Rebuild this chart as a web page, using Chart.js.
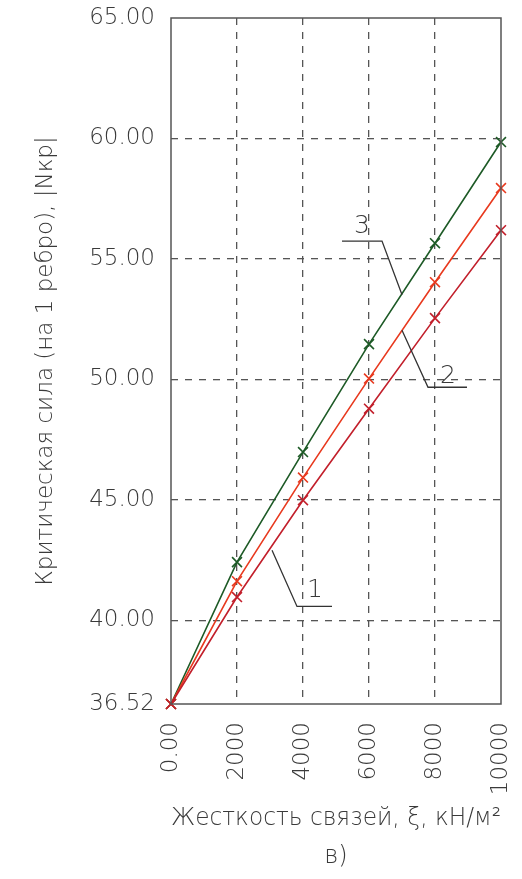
<!DOCTYPE html>
<html>
<head>
<meta charset="utf-8">
<script src="https://cdn.jsdelivr.net/npm/chart.js@4/dist/chart.umd.min.js"></script>
<style>
  html, body { margin: 0; padding: 0; background: #fff; }
</style>
</head>
<body>
<canvas id="chart" width="522" height="879"></canvas>
<script>
// stiffness of links, kN/m2
const stiffness = [0, 2000, 4000, 6000, 8000, 10000];
// critical force per rib, curves 1..3
const curve1 = [36.52, 40.96, 44.98, 48.78, 52.54, 56.19];
const curve2 = [36.52, 41.62, 45.92, 50.03, 54.03, 57.94];
const curve3 = [36.52, 42.41, 46.98, 51.46, 55.65, 59.85];
const yTicks = [36.52, 40, 45, 50, 55, 60, 65];
const xTicks = [0, 2000, 4000, 6000, 8000, 10000];

// callout leaders, in data units: label position + polyline
const leaderLabels = ['1', '2', '3'];
const leaderText = [[4364, 41.24], [8394, 50.13], [5788, 56.36]];
const leaderPaths = [
  [[3061, 42.90], [3818, 40.57], [4879, 40.57]],
  [[7000, 52.04], [7788, 49.67], [8970, 49.67]],
  [[7000, 53.51], [6394, 55.74], [5182, 55.74]]
];

const FONT = "'DejaVu Sans', sans-serif";
const INK = '#3a3a3a';

const frameAndLeaders = {
  id: 'frameAndLeaders',
  afterDraw(chart) {
    const { ctx, chartArea: a, scales: { x, y } } = chart;
    ctx.save();
    ctx.strokeStyle = '#555';
    ctx.lineWidth = 1.5;
    ctx.strokeRect(a.left, a.top, a.right - a.left, a.bottom - a.top);

    ctx.strokeStyle = '#333';
    ctx.lineWidth = 1.3;
    ctx.fillStyle = INK;
    ctx.font = '300 25px ' + FONT;
    ctx.textAlign = 'center';
    ctx.textBaseline = 'middle';
    leaderPaths.forEach((path, i) => {
      ctx.beginPath();
      path.forEach((p, j) => {
        const px = x.getPixelForValue(p[0]);
        const py = y.getPixelForValue(p[1]);
        if (j === 0) ctx.moveTo(px, py); else ctx.lineTo(px, py);
      });
      ctx.stroke();
      ctx.fillText(leaderLabels[i], x.getPixelForValue(leaderText[i][0]), y.getPixelForValue(leaderText[i][1]));
    });
    ctx.restore();
  }
};

function series(label, data, color) {
  return {
    label,
    data: stiffness.map((s, i) => ({ x: s, y: data[i] })),
    borderColor: color,
    backgroundColor: color,
    borderWidth: 1.6,
    pointStyle: 'crossRot',
    pointRadius: 7,
    pointBorderWidth: 1.6,
    tension: 0,
    clip: false
  };
}

const inner = (ctx) => ctx.index > 0 && ctx.index < ctx.chart.scales[ctx.scale.id].ticks.length - 1;

new Chart(document.getElementById('chart'), {
  type: 'line',
  data: {
    // first dataset is drawn on top (dark red cross visible at origin)
    datasets: [
      series('1', curve1, '#c21f2b'),
      series('2', curve2, '#e8391e'),
      series('3', curve3, '#1d5a26')
    ]
  },
  options: {
    responsive: false,
    animation: false,
    layout: { padding: { top: 18, right: 21, left: 0, bottom: 0 } },
    plugins: { legend: { display: false }, tooltip: { enabled: false } },
    scales: {
      x: {
        type: 'linear',
        min: 0,
        max: 10000,
        afterBuildTicks: (s) => { s.ticks = xTicks.map(v => ({ value: v })); },
        afterFit: (s) => { s.height = 175; s.paddingLeft = 0; s.paddingRight = 0; },
        ticks: {
          maxRotation: 90,
          minRotation: 90,
          padding: 18,
          color: INK,
          font: { family: FONT, size: 23, weight: '300' },
          callback: (v) => v === 0 ? '0.00' : String(v)
        },
        grid: {
          color: (c) => inner(c) ? '#555' : 'rgba(0,0,0,0)',
          lineWidth: 1.3,
          drawTicks: false
        },
        border: { display: false, dash: [7, 7] },
        title: {
          display: true,
          text: ['Жесткость связей, ξ, кН/м²', 'в)'],
          color: INK,
          font: { family: FONT, size: 24, weight: '300', lineHeight: 1.55 },
          padding: { top: 17 }
        }
      },
      y: {
        type: 'linear',
        min: 36.52,
        max: 65,
        afterBuildTicks: (s) => { s.ticks = yTicks.map(v => ({ value: v })); },
        afterFit: (s) => { s.width = 171; s.paddingTop = 0; s.paddingBottom = 0; },
        ticks: {
          padding: 16,
          color: INK,
          font: { family: FONT, size: 23, weight: '300' },
          callback: (v) => Number(v).toFixed(2)
        },
        grid: {
          color: (c) => inner(c) ? '#555' : 'rgba(0,0,0,0)',
          lineWidth: 1.3,
          drawTicks: false
        },
        border: { display: false, dash: [7, 7] },
        title: {
          display: true,
          text: 'Критическая сила (на 1 ребро), |Nкр|',
          color: INK,
          font: { family: FONT, size: 23, weight: '300' },
          padding: { top: 32, bottom: 0 }
        }
      }
    }
  },
  plugins: [frameAndLeaders]
});
</script>
</body>
</html>
